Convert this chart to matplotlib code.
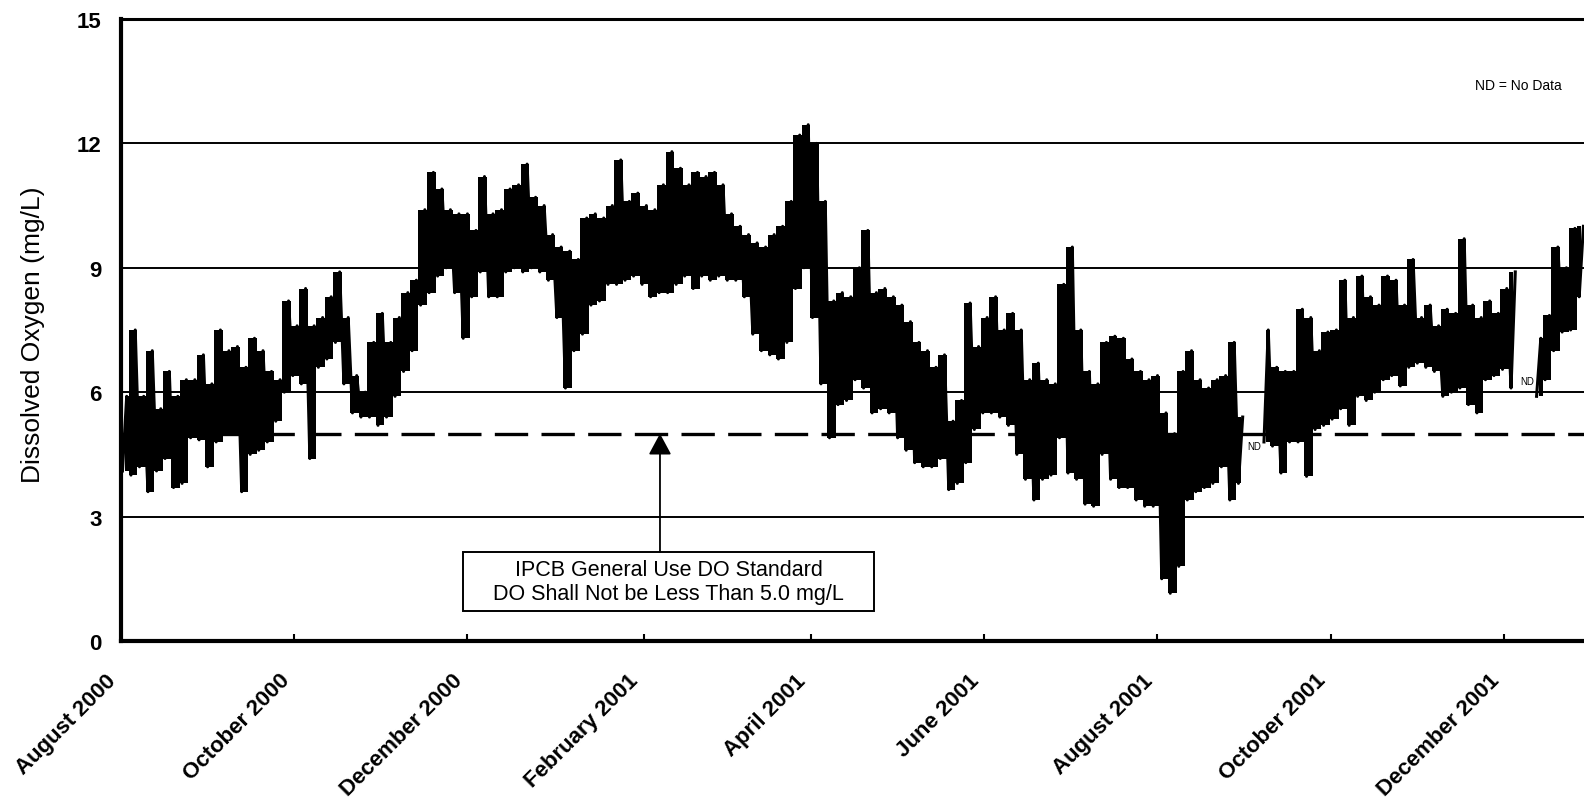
import matplotlib
matplotlib.use('Agg')
import matplotlib.pyplot as plt
import matplotlib.dates as mdates
import matplotlib.transforms as mtransforms
from matplotlib.patches import Rectangle
import numpy as np
import pandas as pd

plt.rcParams['font.family'] = ['Liberation Sans', 'DejaVu Sans']

# daily swing of dissolved oxygen in 3-day steps (mg/L)
start = '2000-08-01'
do_low = [4.1, 4.0, 4.2, 3.6, 4.1, 4.4, 3.7, 3.8, 4.9, 4.85, 4.2, 4.8, 5.0, 5.0, 3.6, 4.5, 4.6, 4.8, 5.3, 6.0,
          6.4, 6.2, 4.4, 6.6, 6.8, 7.2, 6.2, 5.5, 5.4, 5.4, 5.2, 5.4, 5.9, 6.5, 7.0, 8.1, 8.4, 8.8, 9.0, 8.4,
          7.3, 8.3, 8.9,
          8.3, 8.3, 8.9, 9.0, 8.9, 9.0, 8.9, 8.7, 7.8, 6.1, 7.0, 7.4, 8.1, 8.2, 8.6, 8.6, 8.7, 8.8, 8.6, 8.3,
          8.4, 8.4, 8.6, 8.8, 8.5, 8.8, 8.7, 8.8, 8.7, 8.7, 8.3, 7.4, 7.0, 6.9, 6.8, 7.2, 8.5, 9.0, 7.8, 6.2,
          4.9, 5.7,
          5.8, 6.3, 6.1, 5.5, 5.6, 5.5, 4.9, 4.6, 4.3, 4.2, 4.2, 4.4, 3.65, 3.8, 4.3, 5.1, 5.5, 5.5, 5.4, 5.2,
          4.5, 3.9, 3.4, 3.9, 4.0, 4.9, 4.05, 3.9, 3.3, 3.25, 4.5, 3.9, 3.7, 3.7, 3.4, 3.25, 3.25, 1.5, 1.15, 1.8,
          3.4, 3.6, 3.7,
          3.8, 4.2, 3.4, 3.8, np.nan, np.nan, 4.8, 4.7, 4.05, 4.8, 4.8, 3.97, 5.1, 5.2, 5.35, 5.6, 5.2, 5.9, 5.8, 6.0,
          6.3, 6.4, 6.15, 6.6, 6.7, 6.6, 6.5, 5.9, 6.0, 6.1, 5.7, 5.5, 6.3, 6.4, 6.55, 6.1, np.nan, np.nan, 5.9, 6.3,
          7.0, 7.45, 7.5, 8.3]
do_high = [5.9, 7.5, 5.9, 7.0, 5.6, 6.5, 5.9, 6.3, 6.3, 6.9, 6.2, 7.5, 7.0, 7.1, 6.6, 7.3, 7.0, 6.5, 6.3, 8.2,
           7.6, 8.5, 7.6, 7.8, 8.3, 8.9, 7.8, 6.4, 6.0, 7.2, 7.9, 7.2, 7.8, 8.4, 8.7, 10.4, 11.3, 10.9, 10.4, 10.3,
           10.3, 9.9, 11.2,
           10.3, 10.4, 10.9, 11.0, 11.5, 10.7, 10.5, 9.8, 9.5, 9.4, 9.2, 10.2, 10.3, 10.2, 10.5, 11.6, 10.6, 10.8, 10.5, 10.4,
           11.0, 11.8, 11.4, 11.0, 11.3, 11.2, 11.3, 11.0, 10.3, 10.0, 9.8, 9.6, 9.5, 9.8, 10.0, 10.6, 12.2, 12.45, 12.0, 10.6,
           8.2, 8.4,
           8.3, 9.0, 9.9, 8.4, 8.5, 8.3, 8.1, 7.7, 7.2, 7.0, 6.6, 6.9, 5.3, 5.8, 8.15, 7.1, 7.8, 8.3, 7.5, 7.9,
           7.5, 6.3, 6.7, 6.3, 6.2, 8.6, 9.5, 7.5, 6.5, 6.2, 7.2, 7.35, 7.3, 6.8, 6.5, 6.3, 6.4, 5.5, 5.0, 6.5,
           7.0, 6.3, 6.1,
           6.3, 6.4, 7.2, 5.4, np.nan, np.nan, 7.5, 6.6, 6.5, 6.5, 8.0, 7.8, 7.0, 7.45, 7.5, 8.7, 7.8, 8.8, 8.3, 8.1,
           8.8, 8.7, 8.1, 9.2, 7.8, 8.1, 7.6, 8.0, 7.9, 9.7, 8.1, 7.8, 8.2, 7.9, 8.5, 8.9, np.nan, np.nan, 7.3, 7.85,
           9.5, 9.0, 9.95, 10.0]

tick_dates = ['2000-08-01', '2000-10-01', '2000-12-01', '2001-02-01', '2001-04-01',
              '2001-06-01', '2001-08-01', '2001-10-01', '2001-12-01']
nd_dates = ['2001-09-01 18:00', '2001-12-06 14:00']
nd_levels = [4.7, 6.27]
standard = 5.0

lo = np.array(do_low)
hi = np.array(do_high)
bins = pd.date_range(start, periods=len(lo), freq='3D')
t_lo = bins + pd.Timedelta(hours=12)
t_hi = bins + pd.Timedelta(hours=48)
t = np.column_stack([t_lo.values, t_hi.values]).ravel()
v = np.column_stack([lo, hi]).ravel()

fig = plt.figure(figsize=(15.84, 8.12), dpi=100)
ax = fig.add_axes([0.0764, 0.2094, 0.9236, 0.766])

# daily swings drawn as a column band, with the trace on top
ok = ~np.isnan(lo)
ax.fill_between(bins + pd.Timedelta(hours=30), lo, hi, where=ok, step='mid',
                color='black', lw=0, zorder=3)
ax.plot(t, v, color='black', lw=2.2, zorder=3)
ax.axhline(standard, color='black', lw=2.4, dashes=(10, 4), zorder=2)

ax.set_ylim(0, 15)
ax.set_xlim(pd.Timestamp(start), pd.Timestamp(start) + pd.Timedelta(days=515.2))
ax.set_yticks([0, 3, 6, 9, 12, 15])
ax.yaxis.grid(True, color='black', lw=1.4)
ax.set_axisbelow(True)

ax.set_xticks(pd.to_datetime(tick_dates))
ax.xaxis.set_major_formatter(mdates.DateFormatter('%B %Y'))
ax.tick_params(axis='x', direction='in', length=5, width=1.5, pad=26, labelsize=16)
ax.tick_params(axis='y', length=0, pad=14, labelsize=16)
for lab in ax.get_xticklabels():
    lab.set_rotation(45)
    lab.set_ha('right')
    lab.set_va('center')
    lab.set_rotation_mode('anchor')
    lab.set_fontweight('bold')
    lab.set_transform(lab.get_transform() + mtransforms.ScaledTranslation(-8 / 100, 0, fig.dpi_scale_trans))
for lab in ax.get_yticklabels():
    lab.set_fontweight('bold')

ax.spines['left'].set_linewidth(3.0)
ax.spines['bottom'].set_linewidth(3.0)
ax.spines['top'].set_linewidth(2.2)
ax.spines['right'].set_visible(False)

ax.set_ylabel('Dissolved Oxygen (mg/L)', fontsize=19)
ax.yaxis.set_label_coords(-0.052, 0.494)

ax.text(0.9255, 0.894, 'ND = No Data', transform=ax.transAxes, fontsize=10, va='center', ha='left')
for d, y in zip(nd_dates, nd_levels):
    ax.text(pd.Timestamp(d), y, 'ND', fontsize=7, va='center', ha='left')

# standard callout
ax.add_patch(Rectangle((0.2338, 0.0482), 0.281, 0.0949, transform=ax.transAxes,
                       facecolor='white', edgecolor='black', lw=1.4, zorder=4))
ax.text(0.3742, 0.0957, 'IPCB General Use DO Standard\nDO Shall Not be Less Than 5.0 mg/L',
        transform=ax.transAxes, ha='center', va='center', fontsize=15.5, linespacing=1.2, zorder=5)
ax.annotate('', xy=(0.3684, standard), xycoords=ax.get_yaxis_transform(),
            xytext=(0.3684, 0.1431), textcoords='axes fraction',
            arrowprops=dict(arrowstyle='-|>,head_length=0.65,head_width=0.35', mutation_scale=20,
                            color='black', lw=1.3, shrinkA=0, shrinkB=0), zorder=5)

fig.savefig('out.png', dpi=100)
